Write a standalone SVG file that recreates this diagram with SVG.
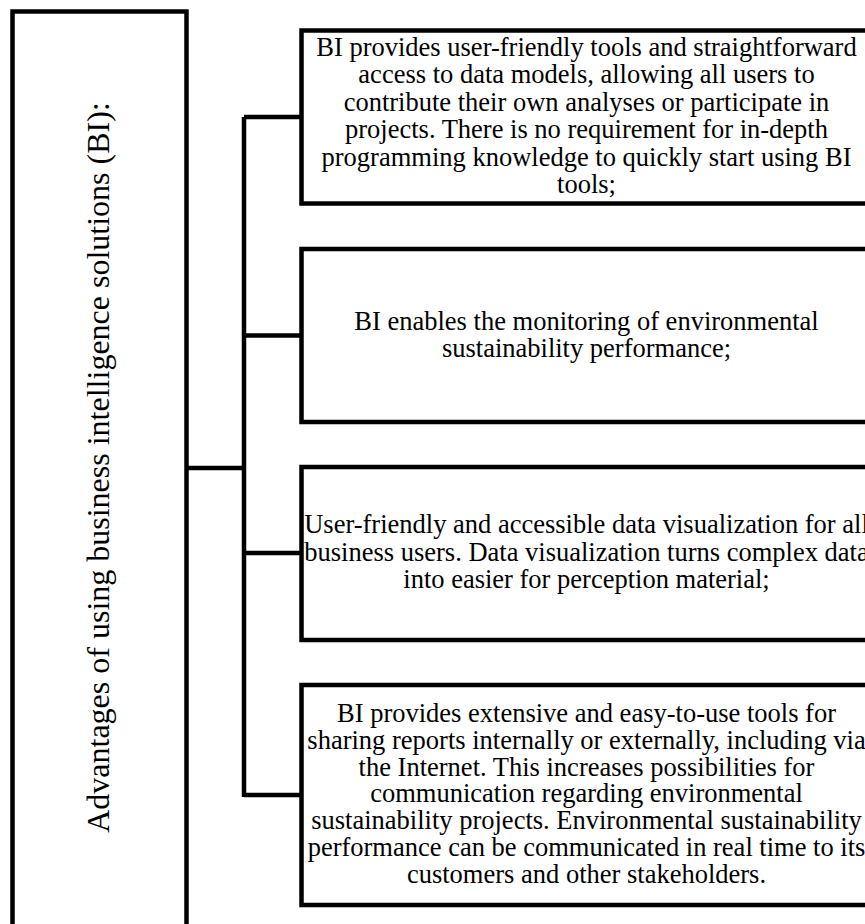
<svg xmlns="http://www.w3.org/2000/svg" width="865" height="924" viewBox="0 0 865 924">
<style>
.box{fill:#fff;stroke:#000;stroke-width:4.5}
.conn{fill:none;stroke:#000;stroke-width:4.5;stroke-linejoin:miter}
.t{font-family:"Liberation Serif","Times New Roman",serif;font-size:26.5px;fill:#000;text-anchor:middle}
.lt{font-family:"Liberation Serif","Times New Roman",serif;font-size:32px;fill:#000;text-anchor:middle}
</style>
<rect width="865" height="924" fill="#fff"/>
<g id="connectors">
<path class="conn" d="M187 468H244M244 117V797M244 117H302M244 335.5H302M244 553H302M244 795H302"/>
</g>
<g id="root">
<rect class="box" x="12.5" y="11.5" width="174" height="930"/>
<text class="lt" transform="translate(109 467.5) rotate(-90)">Advantages of using business intelligence solutions (BI):</text>
</g>
<g id="node1">
<rect class="box" x="301.5" y="30.5" width="572" height="173"/>
<text class="t"><tspan x="586.5" y="55.5">BI provides user-friendly tools and straightforward</tspan><tspan x="586.5" y="83">access to data models, allowing all users to</tspan><tspan x="586.5" y="110.5">contribute their own analyses or participate in</tspan><tspan x="586.5" y="138">projects. There is no requirement for in-depth</tspan><tspan x="586.5" y="165.5">programming knowledge to quickly start using BI</tspan><tspan x="586.5" y="193">tools;</tspan></text>
</g>
<g id="node2">
<rect class="box" x="301.5" y="249" width="572" height="173"/>
<text class="t"><tspan x="586.5" y="329.5">BI enables the monitoring of environmental</tspan><tspan x="586.5" y="357">sustainability performance;</tspan></text>
</g>
<g id="node3">
<rect class="box" x="301.5" y="467" width="572" height="173"/>
<text class="t"><tspan x="586.5" y="533">User-friendly and accessible data visualization for all</tspan><tspan x="586.5" y="560.5">business users. Data visualization turns complex data</tspan><tspan x="586.5" y="588">into easier for perception material;</tspan></text>
</g>
<g id="node4">
<rect class="box" x="301.5" y="685" width="572" height="220"/>
<text class="t"><tspan x="586.5" y="721.5">BI provides extensive and easy-to-use tools for</tspan><tspan x="586.5" y="748.5">sharing reports internally or externally, including via</tspan><tspan x="586.5" y="775.5">the Internet. This increases possibilities for</tspan><tspan x="586.5" y="802">communication regarding environmental</tspan><tspan x="586.5" y="829">sustainability projects. Environmental sustainability</tspan><tspan x="586.5" y="856">performance can be communicated in real time to its</tspan><tspan x="586.5" y="883">customers and other stakeholders.</tspan></text>
</g>
</svg>
